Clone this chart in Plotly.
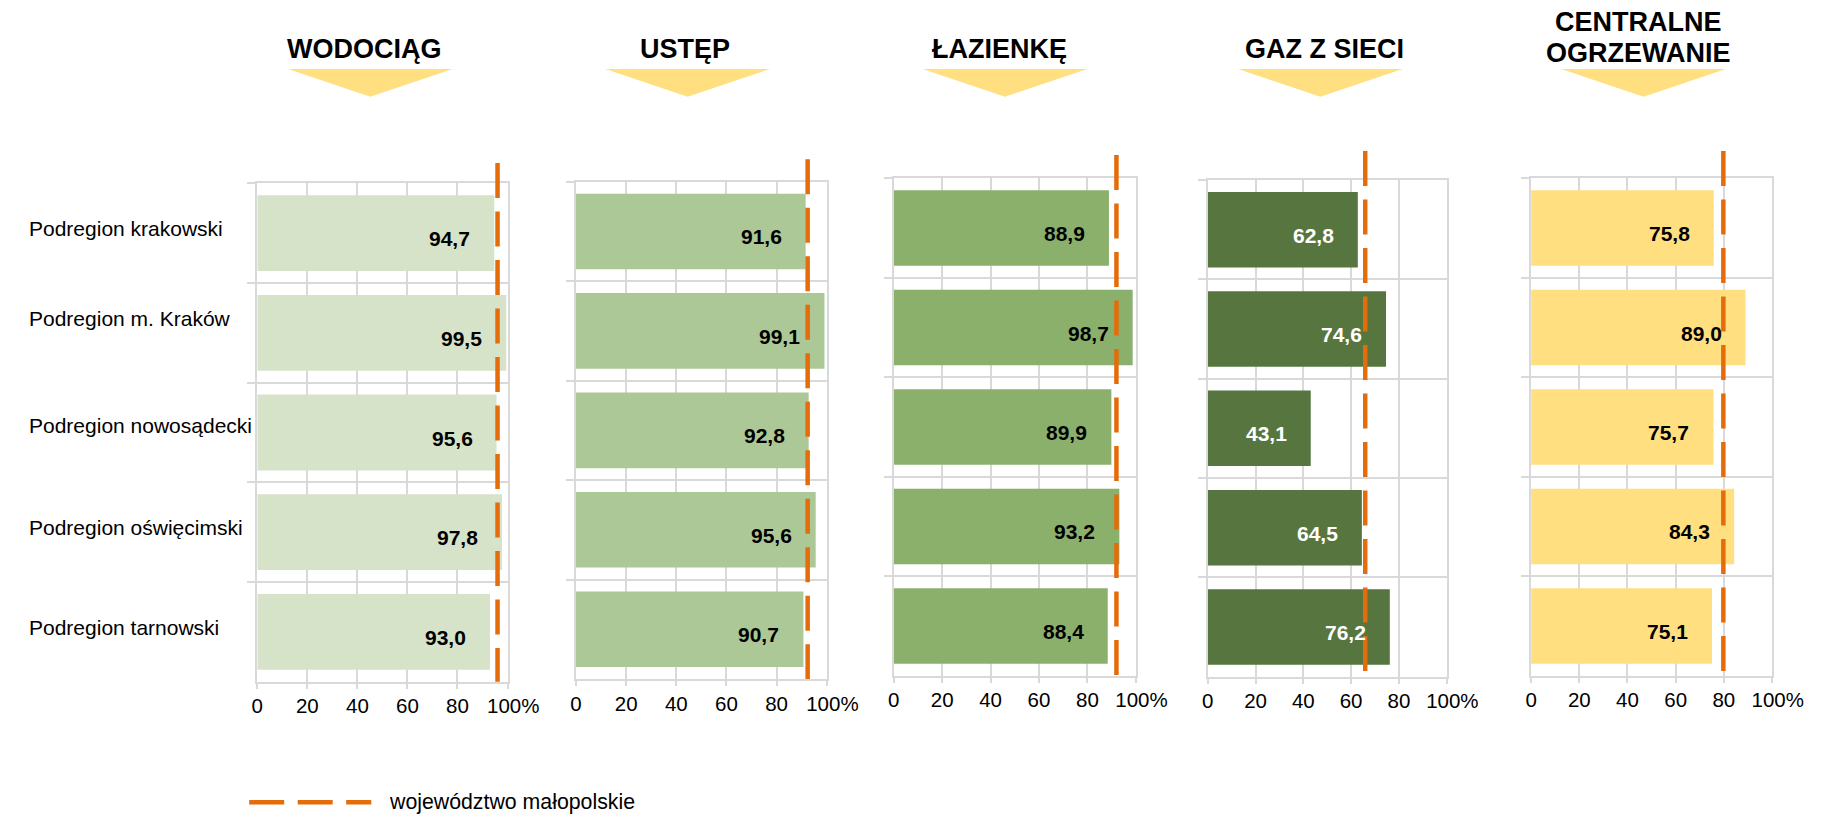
import plotly.graph_objects as go

W, H = 1843, 816

# ---------------- data ----------------
categories = ["Podregion krakowski", "Podregion m. Kraków", "Podregion nowosądecki",
              "Podregion oświęcimski", "Podregion tarnowski"]
titles = [["WODOCIĄG"], ["USTĘP"], ["ŁAZIENKĘ"], ["GAZ Z SIECI"], ["CENTRALNE", "OGRZEWANIE"]]
wodociag = [94.7, 99.5, 95.6, 97.8, 93.0]
ustep = [91.6, 99.1, 92.8, 95.6, 90.7]
lazienka = [88.9, 98.7, 89.9, 93.2, 88.4]
gaz = [62.8, 74.6, 43.1, 64.5, 76.2]
ogrzewanie = [75.8, 89.0, 75.7, 84.3, 75.1]
wojewodztwo = [96.0, 92.4, 92.0, 65.9, 79.8]
legend_label = "województwo małopolskie"
tick_vals = [0, 20, 40, 60, 80, 100]
tick_text = ["0", "20", "40", "60", "80", "\u2007100%"]

series = [wodociag, ustep, lazienka, gaz, ogrzewanie]

# ---------------- styles / layout ----------------
bar_colors = ["#D6E3C9", "#ABC896", "#8BB06C", "#57763F", "#FFDF80"]
label_colors = ["#000000", "#000000", "#000000", "#FFFFFF", "#000000"]
grid_col = "#D9D9D9"
orange = "#E46C0A"
FONT = "Liberation Sans, Arial, sans-serif"

# panel boxes in pixels: (x_left, x_right, y_top, y_bottom)
panels = [(256.6, 512.1, 183.3, 681.7),
          (582.0, 838.0, 181.7, 679.0),
          (906.4, 1153.6, 178.3, 675.7),
          (1227.1, 1471.0, 180.0, 676.7),
          (1557.2, 1803.2, 178.3, 675.7)]
dash_tops = [163, 159.3, 155, 151, 151]
title_cx = [366.4, 693.7, 1014.2, 1346.0, 1666.4]
tri_cx = [372.0, 696.0, 1020.0, 1342.0, 1672.0]
row_label_shift = [5, 14, 7, 4.5, 4]


def px(x):
    return x / W


def py(y):
    return 1 - y / H


fig = go.Figure()
annotations = []
shapes = []

for i, vals in enumerate(series):
    n = i + 1
    xa = "x" if n == 1 else f"x{n}"
    ya = "y" if n == 1 else f"y{n}"
    xl, xr, yt, yb = panels[i]
    fig.add_trace(go.Bar(
        x=vals, y=categories, orientation="h", width=0.76,
        marker=dict(color=bar_colors[i], line=dict(width=0)),
        xaxis=xa, yaxis=ya, hoverinfo="x+y",
    ))
    xkey = "xaxis" if n == 1 else f"xaxis{n}"
    ykey = "yaxis" if n == 1 else f"yaxis{n}"
    fig.update_layout({
        xkey: dict(domain=[px(xl), px(xr)], anchor=ya, range=[0, 100],
                   tickmode="array", tickvals=tick_vals, ticktext=tick_text,
                   ticks="outside", ticklen=5, tickcolor=grid_col, tickwidth=1.5,
                   showgrid=True, gridcolor=grid_col, gridwidth=1.5,
                   showline=True, linecolor=grid_col, linewidth=2, mirror=True,
                   zeroline=False, fixedrange=True,
                   tickfont=dict(family=FONT, size=20.5, color="#000000")),
        ykey: dict(domain=[py(yb), py(yt)], anchor=xa, type="category",
                   categoryorder="array", categoryarray=categories,
                   range=[4.5, -0.5], tickson="boundaries",
                   ticks="outside", ticklen=8, tickcolor=grid_col, tickwidth=1.5,
                   showticklabels=False, showgrid=True, gridcolor=grid_col, gridwidth=1.5,
                   showline=True, linecolor=grid_col, linewidth=2, mirror=True,
                   zeroline=False, fixedrange=True),
    })
    # value labels
    for c, v in zip(categories, vals):
        annotations.append(dict(
            x=v, y=c, xref=xa, yref=ya, xanchor="right", yanchor="middle",
            xshift=-22, yshift=-5.5, showarrow=False,
            text="<b>" + f"{v:.1f}".replace(".", ",") + "</b>",
            font=dict(family=FONT, size=21, color=label_colors[i])))
    # regional average dashed line
    shapes.append(dict(type="line", xref=xa, yref="paper",
                       x0=wojewodztwo[i], x1=wojewodztwo[i],
                       y0=py(dash_tops[i]), y1=py(yb),
                       line=dict(color=orange, width=4.5, dash="35px,13.5px"),
                       layer="above"))
    # title
    lines = titles[i]
    if len(lines) == 1:
        annotations.append(dict(x=px(title_cx[i]), y=py(49), xref="paper", yref="paper",
                                xanchor="center", yanchor="middle", showarrow=False,
                                text="<b>" + lines[0] + "</b>",
                                font=dict(family=FONT, size=27, color="#000000")))
    else:
        for k, t in enumerate(lines):
            annotations.append(dict(x=px(title_cx[i]), y=py(21.7 + 31 * k), xref="paper", yref="paper",
                                    xanchor="center", yanchor="middle", showarrow=False,
                                    text="<b>" + t + "</b>",
                                    font=dict(family=FONT, size=27, color="#000000")))
    # yellow triangle under the title
    cx = tri_cx[i]
    shapes.append(dict(type="path", xref="paper", yref="paper",
                       path=f"M {px(cx - 84)} {py(69)} L {px(cx + 84)} {py(69)} L {px(cx)} {py(96.7)} Z",
                       fillcolor="#FFDF80", line=dict(width=0), layer="below"))

# category labels (left-aligned at the left edge)
for c, s in zip(categories, row_label_shift):
    annotations.append(dict(x=px(21.7), y=c, xref="paper", yref="y", xanchor="left",
                            yanchor="middle", yshift=s, showarrow=False, text=c,
                            font=dict(family=FONT, size=21, color="#000000")))

# legend
shapes.append(dict(type="line", xref="paper", yref="paper",
                   x0=px(248.3), x1=px(373), y0=py(802.3), y1=py(802.3),
                   line=dict(color=orange, width=4.5, dash="35px,13.5px")))
annotations.append(dict(x=px(389.5), y=py(802), xref="paper", yref="paper",
                        xanchor="left", yanchor="middle", showarrow=False,
                        text=legend_label, font=dict(family=FONT, size=21.3, color="#000000")))

fig.update_layout(width=W, height=H, margin=dict(l=0, r=0, t=0, b=0),
                  paper_bgcolor="white", plot_bgcolor="white", showlegend=False,
                  font=dict(family=FONT, color="#000000"),
                  annotations=annotations, shapes=shapes)

fig.write_html("out.html", config={"displayModeBar": False},
               post_script="document.body.style.margin='0';document.body.style.overflow='hidden';")
